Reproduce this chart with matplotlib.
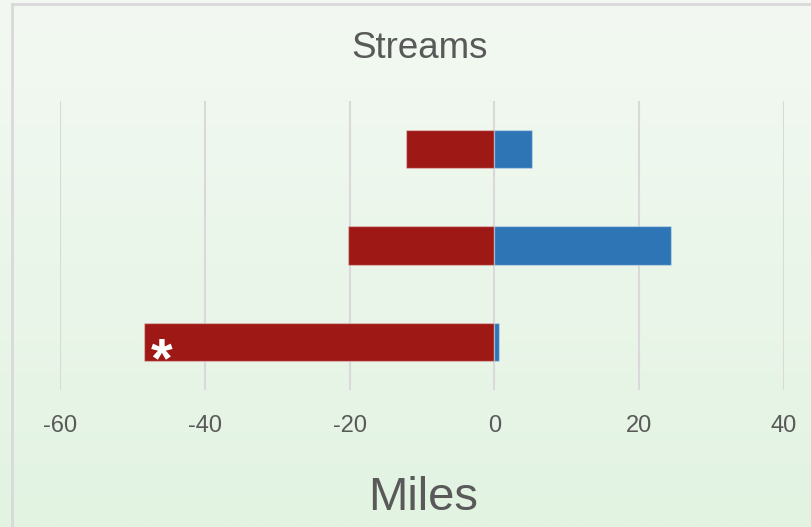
import numpy as np
import matplotlib
matplotlib.use("Agg")
import matplotlib.pyplot as plt
from matplotlib.lines import Line2D

plt.rcParams['font.family'] = ['Liberation Sans', 'DejaVu Sans']

# data (bottom row first, like the Excel category order)
categories = ["A", "B", "C"]
lost_miles = [-48.4, -20.2, -12.2]
gained_miles = [0.6, 24.4, 5.2]
x_ticks = [-60, -40, -20, 0, 20, 40]
flag_row = 0   # row with the asterisk

red = "#9e1815"
blue = "#2e75b6"
W, H = 811, 527

fig = plt.figure(figsize=(W / 100, H / 100), dpi=100)

# background gradient
bg = fig.add_axes([0, 0, 1, 1], zorder=-10)
top_c = np.array([243, 249, 242]) / 255
bot_c = np.array([226, 243, 226]) / 255
t = np.linspace(0, 1, 256)[:, None]
grad = top_c * (1 - t[..., None]) + bot_c * t[..., None]
bg.imshow(np.repeat(grad, 2, axis=1), aspect="auto", extent=[0, 1, 0, 1])
bg.set_axis_off()

# chart border (cropped on the right and bottom)
fig.add_artist(Line2D([12 / W, 12 / W], [0, 1 - 4 / H], color="#d9d9d9", lw=2, transform=fig.transFigure))
fig.add_artist(Line2D([12 / W, 1], [1 - 4 / H, 1 - 4 / H], color="#d9d9d9", lw=2, transform=fig.transFigure))

ax = fig.add_axes([60 / W, 1 - 390 / H, (784 - 60) / W, (390 - 101) / H])
ax.patch.set_alpha(0)

y = np.arange(len(categories))
ax.barh(y, lost_miles, height=0.4, color=red, edgecolor=(1, 1, 1, 0.35), lw=1, zorder=3)
ax.barh(y, gained_miles, height=0.4, color=blue, edgecolor=(1, 1, 1, 0.35), lw=1, zorder=3)

ax.annotate("*", (lost_miles[flag_row], y[flag_row]), xytext=(13, -15),
            textcoords="offset points", color="white", fontsize=40,
            fontweight="bold", ha="center", va="center", zorder=5)

ax.set_xlim(-60, 40)
ax.set_ylim(-0.5, 2.5)
ax.set_xticks(x_ticks)
ax.set_xticklabels([str(v) for v in x_ticks])
ax.set_yticks([])
ax.grid(axis="x", color="#d9d9d9", lw=1.5, zorder=0)
for s in ax.spines.values():
    s.set_visible(False)
ax.tick_params(axis="x", length=0, labelsize=17, labelcolor="#595959", pad=18)

fig.text(420 / W, 1 - 48 / H, "Streams", ha="center", va="center", fontsize=26.5, color="#595959")
fig.text(423 / W, 1 - 498 / H, "Miles", ha="center", va="center", fontsize=34, color="#595959")

fig.savefig("out.png", dpi=100)
